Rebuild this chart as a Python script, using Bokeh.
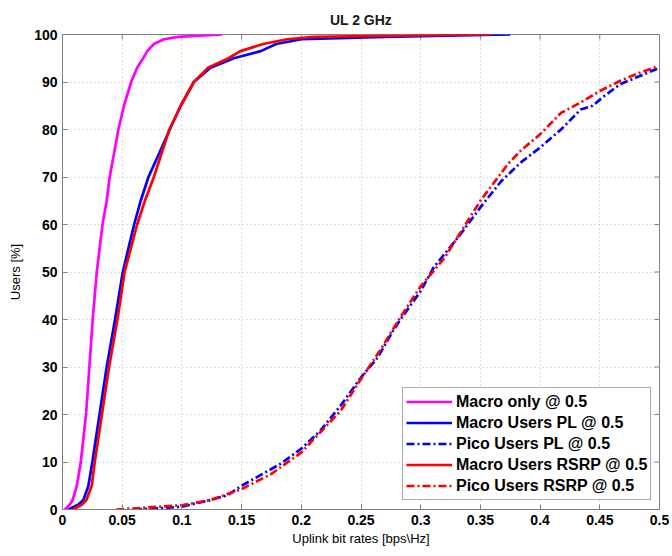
from bokeh.plotting import figure
from bokeh.models import FixedTicker, Legend, LegendItem, Range1d
from bokeh.embed import file_html
from bokeh.resources import INLINE

# ---------------- data ----------------
users_pct = [0, 1, 2, 5, 10, 20, 30, 40, 50, 60, 65, 70, 75, 80, 85, 90, 93, 95, 96.5, 98, 99, 99.5, 100]
macro_only = [0.002, 0.006, 0.0085, 0.012, 0.0153, 0.0197, 0.0225, 0.0253, 0.0287, 0.0335, 0.037, 0.0395,
              0.0432, 0.0468, 0.0515, 0.0575, 0.0625, 0.0675, 0.071, 0.0765, 0.085, 0.097, 0.1335]
macro_pl = [0.005, 0.013, 0.0175, 0.0217, 0.025, 0.031, 0.037, 0.044, 0.0505, 0.060, 0.0655, 0.072,
            0.081, 0.0898, 0.099, 0.110, 0.124, 0.1435, 0.166, 0.179, 0.2, 0.27, 0.375]
macro_rsrp = [0.009, 0.016, 0.020, 0.0245, 0.027, 0.033, 0.039, 0.046, 0.052, 0.0625, 0.069, 0.0765,
              0.083, 0.0895, 0.099, 0.110, 0.122, 0.139, 0.149, 0.168, 0.188, 0.21, 0.359]

pico_pl_x = [0.06, 0.085, 0.1, 0.124, 0.138, 0.15, 0.1825, 0.2, 0.216, 0.233, 0.25, 0.264, 0.277, 0.283,
             0.3, 0.311, 0.3335, 0.35, 0.367, 0.3835, 0.4, 0.4175, 0.434, 0.444, 0.4535, 0.4675, 0.484, 0.5]
pico_pl_y = [0, 0.3, 0.6, 2.0, 3.0, 5, 9.6, 12.8, 16.6, 21.9, 27.8, 32, 37.7, 40,
             46, 51, 58, 63.6, 69, 73, 76.2, 80, 84.2, 85, 87, 89.6, 91.3, 93]

pico_rsrp_x = [0.045, 0.07, 0.1, 0.124, 0.15, 0.175, 0.2, 0.233, 0.25, 0.266, 0.283, 0.3, 0.32, 0.35,
               0.373, 0.3835, 0.4, 0.4175, 0.434, 0.4508, 0.4675, 0.484, 0.4985]
pico_rsrp_y = [0, 0.4, 0.9, 2.0, 4.3, 7.5, 12, 20.8, 27.5, 33.5, 40.5, 47, 53, 65,
               72.7, 75.5, 79, 83.5, 85.7, 88.2, 90.3, 92, 93.3]

x_ticks = [0, 0.05, 0.1, 0.15, 0.2, 0.25, 0.3, 0.35, 0.4, 0.45, 0.5]
x_tick_labels = ["0", "0.05", "0.1", "0.15", "0.2", "0.25", "0.3", "0.35", "0.4", "0.45", "0.5"]
y_ticks = [0, 10, 20, 30, 40, 50, 60, 70, 80, 90, 100]

series_labels = ["Macro only @ 0.5", "Macro Users PL @ 0.5", "Pico Users PL @ 0.5",
                 "Macro Users RSRP @ 0.5", "Pico Users RSRP @ 0.5"]

FONT = "Liberation Sans"
GRAY = "#808080"
X_MIN, X_MAX, Y_MIN, Y_MAX = 0, 0.5, 0, 100

p = figure(width=670, height=552, output_backend="svg", toolbar_location=None,
           x_range=Range1d(X_MIN, X_MAX), y_range=Range1d(Y_MIN, Y_MAX),
           min_border_left=62, min_border_right=11, min_border_top=34, min_border_bottom=43,
           title="UL 2 GHz")
p.title.align = "center"
p.title.text_font = FONT
p.title.text_font_size = "14px"
p.title.text_font_style = "bold"
p.title.text_color = "#1a1a1a"
p.title.standoff = 14

p.outline_line_color = GRAY
p.outline_line_width = 1

for ax in p.xaxis:
    ax.ticker = FixedTicker(ticks=x_ticks)
    ax.major_label_overrides = dict(zip(x_ticks, x_tick_labels))
for ax in p.yaxis:
    ax.ticker = FixedTicker(ticks=y_ticks)

p.xaxis.axis_label = "Uplink bit rates [bps\\Hz]"
p.yaxis.axis_label = "Users [%]"

for ax in list(p.xaxis) + list(p.yaxis):
    ax.axis_line_color = GRAY
    ax.major_tick_line_color = GRAY
    ax.major_tick_in = 5
    ax.major_tick_out = 0
    ax.minor_tick_line_color = None
    ax.major_label_text_font = FONT
    ax.major_label_text_font_size = "14px"
    ax.major_label_text_font_style = "bold"
    ax.major_label_text_color = "black"
    ax.axis_label_text_font = FONT
    ax.axis_label_text_font_size = "13px"
    ax.axis_label_text_font_style = "normal"
    ax.axis_label_text_color = "black"
p.xaxis.major_label_standoff = 5
p.yaxis.major_label_standoff = 5
p.xaxis.axis_label_standoff = 3
p.yaxis.axis_label_standoff = 8

p.xgrid.grid_line_color = "#b8b8b8"
p.ygrid.grid_line_color = "#b8b8b8"
p.xgrid.grid_line_dash = "1 3"
p.ygrid.grid_line_dash = "1 3"

# box-style inward ticks on the top and right edges
tick_dy = 5 / 4.75
tick_dx = 5 / 1194
p.segment(x0=x_ticks, x1=x_ticks, y0=[Y_MAX] * len(x_ticks), y1=[Y_MAX - tick_dy] * len(x_ticks),
          line_color=GRAY, line_width=1)
p.segment(x0=[X_MAX] * len(y_ticks), x1=[X_MAX - tick_dx] * len(y_ticks), y0=y_ticks, y1=y_ticks,
          line_color=GRAY, line_width=1)

DD = "8 3 2 3"
LW = 2.7
r1 = p.line(macro_only, users_pct, line_color="#ff00ff", line_width=LW)
r2 = p.line(macro_pl, users_pct, line_color="#0000ff", line_width=LW)
r3 = p.line(pico_pl_x, pico_pl_y, line_color="#0000ff", line_width=LW, line_dash=DD)
r4 = p.line(macro_rsrp, users_pct, line_color="#ff0000", line_width=LW)
r5 = p.line(pico_rsrp_x, pico_rsrp_y, line_color="#ff0000", line_width=LW, line_dash=DD)

legend = Legend(items=[LegendItem(label=l, renderers=[r]) for l, r in
                       zip(series_labels, [r1, r2, r3, r4, r5])],
                location=(340, 9))
legend.label_text_font = FONT
legend.label_text_font_size = "16px"
legend.label_text_font_style = "bold"
legend.label_text_color = "black"
legend.glyph_width = 46
legend.glyph_height = 21
legend.label_height = 21
legend.label_standoff = 4
legend.spacing = 0
legend.padding = 3
legend.margin = 0
legend.border_line_color = "#555555"
legend.border_line_width = 1
legend.background_fill_alpha = 1
p.add_layout(legend, "center")

open("out.html", "w").write(file_html(p, INLINE))
